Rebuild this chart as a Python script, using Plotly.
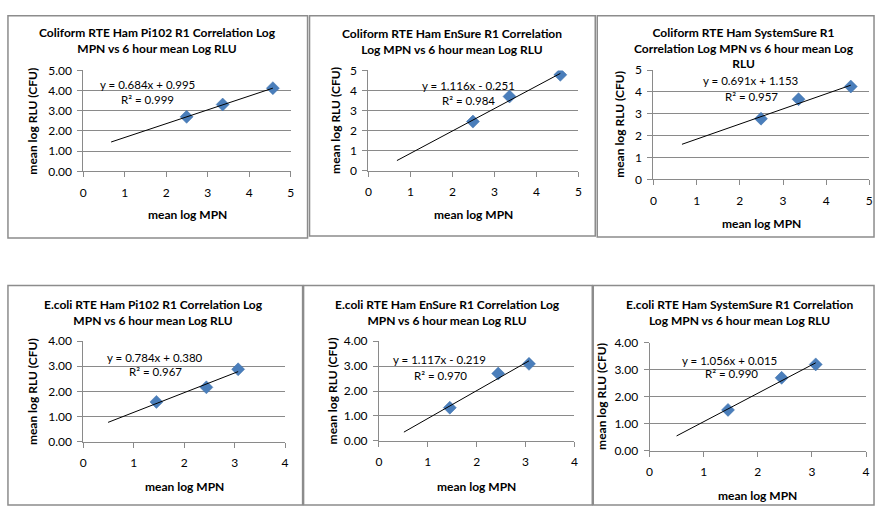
import plotly.graph_objects as go

W, H = 880, 509

# ---------------- data ----------------
titles = [
    "Coliform RTE Ham Pi102 R1 Correlation Log<br>MPN vs 6 hour mean Log RLU",
    "Coliform RTE Ham EnSure R1 Correlation<br>Log MPN vs 6 hour mean Log RLU",
    "Coliform RTE Ham SystemSure R1<br>Correlation Log MPN vs 6 hour mean Log<br>RLU",
    "E.coli RTE Ham Pi102 R1 Correlation Log<br>MPN vs 6 hour mean Log RLU",
    "E.coli RTE Ham EnSure R1 Correlation Log<br>MPN vs 6 hour mean Log RLU",
    "E.coli RTE Ham SystemSure R1 Correlation<br>Log MPN vs 6 hour mean Log RLU",
]

x_coliform = [2.49, 3.36, 4.57]
x_ecoli = [1.45, 2.44, 3.07]

y_coli_pi102 = [2.70, 3.31, 4.12]
y_coli_ensure = [2.45, 3.70, 4.78]
y_coli_systemsure = [2.78, 3.67, 4.25]
y_ecoli_pi102 = [1.58, 2.16, 2.88]
y_ecoli_ensure = [1.33, 2.70, 3.09]
y_ecoli_systemsure = [1.51, 2.70, 3.20]

slopes = [0.684, 1.116, 0.691, 0.784, 1.117, 1.056]
intercepts = [0.995, -0.251, 1.153, 0.380, -0.219, 0.015]
r2_values = [0.999, 0.984, 0.957, 0.967, 0.970, 0.990]
trend_start = [0.67, 0.68, 0.66, 0.49, 0.51, 0.50]

x_data = [x_coliform, x_coliform, x_coliform, x_ecoli, x_ecoli, x_ecoli]
y_data = [y_coli_pi102, y_coli_ensure, y_coli_systemsure,
          y_ecoli_pi102, y_ecoli_ensure, y_ecoli_systemsure]

axis_max_x = [5, 5, 5, 4, 4, 4]
axis_max_y = [5, 5, 5, 4, 4, 4]
y_tickformat = [".2f", "d", "d", ".2f", ".2f", ".2f"]

x_title = "mean log MPN"
y_title = "mean log RLU (CFU)"

# ---------------- layout (pixel geometry) ----------------
# plot area: x0, x1, ytop, ybottom
plot_area = [
    (81, 290, 64.3, 168.3),
    (368.3, 580, 64.3, 167.7),
    (655.7, 873.3, 64, 176.7),
    (81, 284.3, 343.3, 446.7),
    (379, 576, 343.3, 446),
    (651.7, 870, 345, 456),
]
# panel frame: x0, x1, y0, y1
frames = [
    (5, 307, 8, 237),
    (309, 597, 8, 235),
    (599, 878, 8, 236),
    (5, 302, 286, 512),
    (303, 594, 286, 512),
    (595, 878, 286, 512),
]
title_pos = [(156, 33.5), (453, 34.5), (747, 41.5), (152, 313.5), (448, 313.5), (742, 313.5)]
eq_pos = [(146, 79), (469, 80), (754, 75), (153, 360), (440, 362), (732, 363)]
r2_pos = [(146, 94), (469, 95), (755, 91), (154, 375), (441, 379), (734, 377)]
xtitle_y = [213, 213, 222, 493, 493, 502]
ytitle_x = [30, 335, 622, 30, 332, 604]

FONT = "Lato, 'Liberation Sans', Arial, sans-serif"
GRID = "#8a8a8a"
MARKER = "#4a7ebb"


def px(x):
    return x / W


def py(y):
    return 1 - y / H


fig = go.Figure()
annotations = []
shapes = []

for i in range(6):
    n = "" if i == 0 else str(i + 1)
    xa, ya = "x" + n, "y" + n
    x0, x1, yt, yb = plot_area[i]

    fig.add_trace(go.Scatter(
        x=x_data[i], y=y_data[i], mode="markers", xaxis=xa, yaxis=ya,
        marker=dict(symbol="diamond", size=10, color=MARKER,
                    line=dict(width=0.5, color="#3d6ea8")),
        showlegend=False, hoverinfo="x+y"))

    tx = [trend_start[i], max(x_data[i])]
    ty = [slopes[i] * v + intercepts[i] for v in tx]
    fig.add_trace(go.Scatter(
        x=tx, y=ty, mode="lines", xaxis=xa, yaxis=ya,
        line=dict(color="black", width=1), showlegend=False, hoverinfo="skip"))

    fig.layout["xaxis" + n] = dict(
        domain=[px(x0), px(x1)], anchor=ya, range=[0, axis_max_x[i]],
        dtick=1, tick0=0, showgrid=False, zeroline=False, showline=True,
        linecolor=GRID, linewidth=1, ticks="outside", ticklen=5,
        tickcolor=GRID, tickfont=dict(family=FONT, size=12, color="black"),
        ticklabelstandoff=5, fixedrange=True)
    fig.layout["yaxis" + n] = dict(
        domain=[py(yb), py(yt)], anchor=xa, range=[0, axis_max_y[i]],
        dtick=1, tick0=0, showgrid=True, gridcolor=GRID, gridwidth=1,
        zeroline=False, showline=True, linecolor=GRID, linewidth=1,
        ticks="outside", ticklen=5, tickcolor=GRID, tickformat=y_tickformat[i],
        tickfont=dict(family=FONT, size=12, color="black"),
        ticklabelstandoff=3, fixedrange=True)

    fx0, fx1, fy0, fy1 = frames[i]
    shapes.append(dict(type="rect", xref="paper", yref="paper",
                       x0=px(fx0), x1=px(fx1), y0=py(fy1), y1=py(fy0),
                       line=dict(color="#8c8c8c", width=1.5), layer="below"))

    annotations.append(dict(
        text=titles[i], x=px(title_pos[i][0]), y=py(title_pos[i][1]),
        xref="paper", yref="paper", showarrow=False, xanchor="center",
        yanchor="middle", align="center",
        font=dict(family=FONT, size=12, color="black", weight="bold")))

    sign = "+" if intercepts[i] >= 0 else "-"
    eq = f"y = {slopes[i]:.3f}x {sign} {abs(intercepts[i]):.3f}"
    annotations.append(dict(
        text=eq, x=px(eq_pos[i][0]), y=py(eq_pos[i][1]), xref="paper",
        yref="paper", showarrow=False, xanchor="center", yanchor="middle",
        font=dict(family=FONT, size=11.5, color="black")))
    annotations.append(dict(
        text=f"R² = {r2_values[i]:.3f}", x=px(r2_pos[i][0]), y=py(r2_pos[i][1]),
        xref="paper", yref="paper", showarrow=False, xanchor="center",
        yanchor="middle", font=dict(family=FONT, size=11.5, color="black")))

    annotations.append(dict(
        text=x_title, x=px((x0 + x1) / 2), y=py(xtitle_y[i]), xref="paper",
        yref="paper", showarrow=False, xanchor="center", yanchor="middle",
        font=dict(family=FONT, size=12, color="black", weight="bold")))
    annotations.append(dict(
        text=y_title, x=px(ytitle_x[i]), y=py((yt + yb) / 2), xref="paper",
        yref="paper", showarrow=False, xanchor="center", yanchor="middle",
        textangle=-90,
        font=dict(family=FONT, size=12, color="black", weight="bold")))

fig.update_layout(
    width=W, height=H, margin=dict(l=0, r=0, t=0, b=0),
    paper_bgcolor="white", plot_bgcolor="white",
    annotations=annotations, shapes=shapes, showlegend=False)

fig.write_html("out.html")
